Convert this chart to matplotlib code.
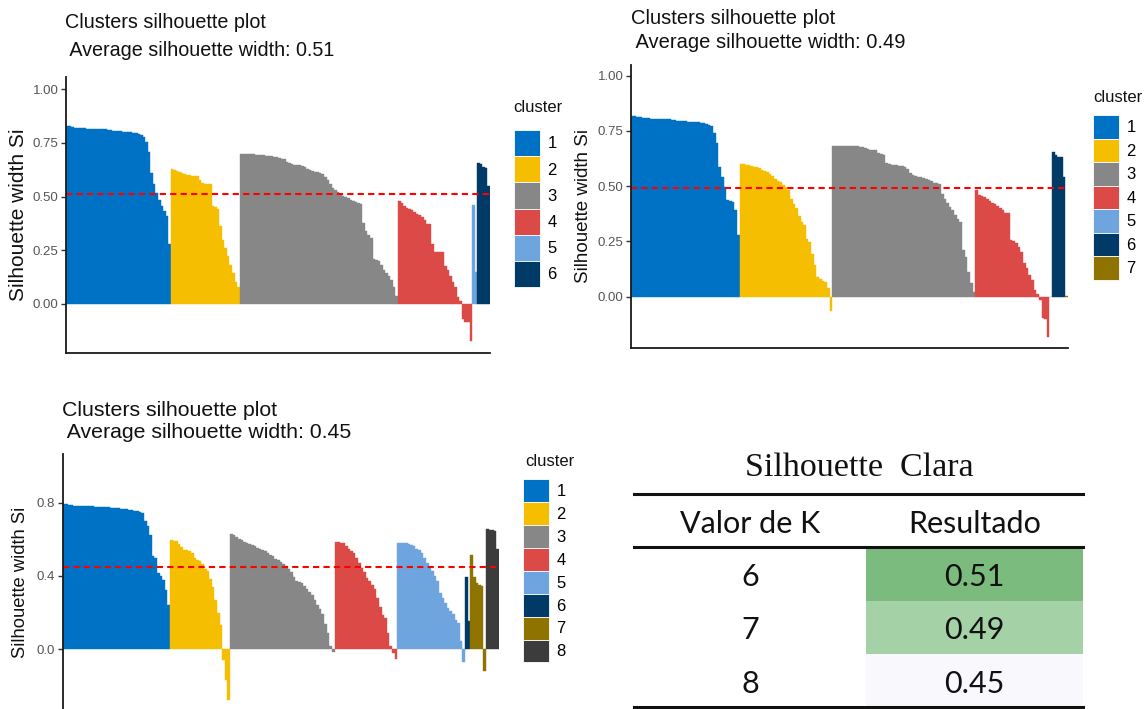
import matplotlib
matplotlib.use("Agg")
import matplotlib.pyplot as plt
from matplotlib.patches import Patch, Rectangle
import numpy as np

W, H = 1147, 709

k6_c1 = [.827, .826, .824, .821, .820, .818, .817, .817, .816, .816, .815, .815, .815, .815,
         .814, .812, .810, .809, .807, .806, .804, .803, .802, .801, .800, .799, .797, .796,
         .790, .785, .775, .755, .709, .609, .559, .516, .485, .455, .431, .411, .277]
k6_c2 = [.627, .625, .620, .615, .610, .605, .600, .598, .596, .596, .594, .578, .565, .560,
         .559, .558, .455, .450, .440, .365, .300, .260, .223, .180, .146, .100, .077]
k6_c3 = [.700, .700, .699, .698, .697, .696, .695, .694, .692, .691, .690, .688, .687, .686,
         .683, .680, .676, .673, .660, .655, .650, .648, .647, .645, .640, .636, .630, .624,
         .618, .615, .612, .609, .605, .593, .575, .560, .540, .528, .520, .508, .503, .498,
         .492, .485, .480, .475, .468, .465, .377, .339, .320, .308, .210, .205, .200, .180,
         .160, .146, .131, .110, .077, .038]
k6_c4 = [.478, .470, .458, .447, .443, .439, .430, .420, .412, .405, .390, .374, .374, .277,
         .243, .243, .243, .243, .177, .159, .131, .100, .077, .031, .015, -.072, -.085, -.085,
         -.170]
k6_c5 = [.460, .150]
k6_c6 = [.655, .650, .636, .634, .547]

k7_c1 = [.817, .816, .814, .812, .810, .808, .807, .806, .806, .805, .805, .804, .804, .803,
         .802, .800, .798, .796, .795, .794, .793, .792, .791, .790, .789, .788, .787, .785,
         .780, .777, .770, .742, .697, .588, .540, .495, .437, .432, .430, .390, .279]
k7_c2 = [.599, .598, .597, .596, .592, .588, .585, .581, .575, .570, .563, .555, .545, .531,
         .525, .520, .505, .495, .483, .440, .420, .400, .365, .340, .324, .260, .249, .193,
         .143, .090, .080, .070, .068, .038, -.063]
k7_c3 = [.683, .683, .683, .682, .682, .682, .681, .681, .680, .680, .679, .676, .672, .667,
         .665, .665, .665, .652, .645, .641, .603, .600, .597, .596, .594, .591, .589, .585,
         .576, .560, .550, .545, .543, .540, .536, .533, .528, .523, .516, .513, .510, .465,
         .440, .422, .405, .392, .370, .350, .339, .211, .181, .113, .063, .023]
k7_c4 = [.483, .460, .455, .449, .440, .434, .425, .419, .410, .400, .390, .377, .377, .256,
         .250, .244, .226, .200, .154, .128, .100, .075, .030, .010, -.015, -.098, -.100, -.181]
k7_c5 = [0.0]
k7_c6 = [.653, .641, .634, .634, .543]
k7_c7 = [.005]

k8_c1 = [.793, .791, .789, .787, .785, .784, .783, .783, .782, .782, .781, .780, .779, .778,
         .777, .776, .776, .775, .774, .773, .772, .771, .769, .767, .765, .763, .760, .758,
         .755, .750, .742, .700, .672, .626, .508, .499, .416, .402, .380, .325, .243]
k8_c2 = [.595, .592, .590, .577, .560, .544, .540, .535, .526, .499, .490, .480, .468, .440,
         .426, .384, .340, .270, .200, .133, -.058, -.168, -.278]
k8_c3 = [.630, .625, .615, .605, .595, .585, .580, .577, .570, .563, .555, .548, .540, .535,
         .525, .515, .508, .495, .485, .478, .465, .455, .440, .420, .395, .371, .366, .362,
         .345, .329, .310, .298, .270, .240, .220, .190, .140, .090, .018, -.018]
k8_c4 = [.586, .586, .583, .581, .566, .550, .535, .526, .499, .470, .445, .420, .389, .371,
         .353, .330, .279, .230, .188, .170, .088, .015, -.022, -.055]
k8_c5 = [.581, .581, .580, .579, .577, .570, .563, .550, .540, .526, .499, .471, .450, .430,
         .400, .371, .307, .279, .252, .225, .210, .190, .161, .142, .042, -.068]
k8_c6 = [.393, .152]
k8_c7 = [.517, .395, .360, .350, .343, -.119]
k8_c8 = [.658, .652, .650, .648, .548]

avg_width = [0.51, 0.49, 0.45]

# summary table
k_values = [6, 7, 8]
resultado = [0.51, 0.49, 0.45]
cell_colors = ["#7BBB7E", "#A5D1A7", "#F9F9FD"]

palette = ["#0072C6", "#F5BE00", "#878787", "#DC4A48", "#6FA5DE", "#003B68", "#8F7300", "#3C3C3C"]

SANS = ["Liberation Sans", "DejaVu Sans"]
TAB = ["Lato", "DejaVu Sans"]

fig = plt.figure(figsize=(W / 100, H / 100), dpi=100)


def px_axes(left, top, right, bottom):
    return fig.add_axes([left / W, 1 - bottom / H, (right - left) / W, (bottom - top) / H])


def sil_plot(rect, ylim, clusters, avg, yticks, ytl, title_xy, title_fs, title_ls,
             ylab_xy, ylab_fs, leg_xy, key_h, cl_xy):
    ax = px_axes(*rect)
    vals = np.concatenate([np.array(c, dtype=float) for c in clusters])
    cols = np.concatenate([[palette[i]] * len(c) for i, c in enumerate(clusters)])
    x = np.arange(len(vals))
    ax.bar(x, vals, width=1.0, color=cols, edgecolor=cols, linewidth=0.3)
    ax.axhline(avg, color="#FF0000", lw=1.5, dashes=(3, 2))
    ax.set_xlim(-0.5, len(vals) - 0.5)
    ax.set_ylim(*ylim)
    for s in ["top", "right"]:
        ax.spines[s].set_visible(False)
    for s in ["left", "bottom"]:
        ax.spines[s].set_linewidth(1.3)
        ax.spines[s].set_color("#1a1a1a")
    ax.set_xticks([])
    ax.set_yticks(yticks)
    ax.set_yticklabels(ytl, fontfamily=SANS, fontsize=9.5, color="#555555")
    ax.tick_params(axis="y", length=3.5, width=1, color="#333333", pad=2)

    fig.text(title_xy[0] / W, 1 - title_xy[1] / H,
             "Clusters silhouette plot\n Average silhouette width: %.2f" % avg,
             ha="left", va="top", fontsize=title_fs, linespacing=title_ls,
             family=SANS, color="#111111")
    fig.text(ylab_xy[0] / W, 1 - ylab_xy[1] / H, "Silhouette width Si", rotation=90,
             ha="center", va="center", fontsize=ylab_fs, family=SANS, color="#111111")

    fig.text(cl_xy[0] / W, 1 - cl_xy[1] / H, "cluster", ha="left", va="center",
             fontsize=12, family=SANS, color="#111111")
    fs = 12
    handles = [Patch(facecolor=palette[i], edgecolor="white", linewidth=0.6)
               for i in range(len(clusters))]
    labels = [str(i + 1) for i in range(len(clusters))]
    ax.legend(handles, labels, loc="upper left", bbox_to_anchor=(leg_xy[0] / W, 1 - leg_xy[1] / H),
              bbox_transform=fig.transFigure, frameon=False, borderpad=0, borderaxespad=0,
              labelspacing=0, handlelength=26 / (fs * 100 / 72), handleheight=key_h / (fs * 100 / 72),
              handletextpad=0.45, prop={"family": SANS, "size": fs})
    return ax


sil_plot((66, 77, 490, 353), (-0.228, 1.056),
         [k6_c1, k6_c2, k6_c3, k6_c4, k6_c5, k6_c6], avg_width[0],
         [0, .25, .5, .75, 1], ["0.00", "0.25", "0.50", "0.75", "1.00"],
         (65, 13), 14.2, 1.6, (19, 215), 15, (514, 130), 34, (513, 108))

sil_plot((631, 65, 1068, 348), (-0.232, 1.048),
         [k7_c1, k7_c2, k7_c3, k7_c4, k7_c5, k7_c6, k7_c7], avg_width[1],
         [0, .25, .5, .75, 1], ["0.00", "0.25", "0.50", "0.75", "1.00"],
         (631, 9), 14.5, 1.3, (584, 206), 13.5, (1093, 115), 29.9, (1093, 97))

sil_plot((63, 454, 499, 715), (-0.36, 1.067),
         [k8_c1, k8_c2, k8_c3, k8_c4, k8_c5, k8_c6, k8_c7, k8_c8], avg_width[2],
         [0, .4, .8], ["0.0", "0.4", "0.8"],
         (62, 401), 15.3, 1.2, (21, 582), 13.2, (523, 479), 29, (525, 462))

# table
axt = px_axes(634, 494, 1083, 707)
axt.axis("off")
axt.set_xlim(0, 1)
axt.set_ylim(3, -1)
split = (866 - 634) / (1083 - 634)
for i, (k, r, c) in enumerate(zip(k_values, resultado, cell_colors)):
    axt.add_patch(Rectangle((split, i), 1 - split, 1, facecolor=c, edgecolor="none"))
    axt.text(split / 2, i + 0.56, str(k), ha="center", va="center", fontsize=22,
             family=TAB, color="#111111")
    axt.text((1 + split) / 2, i + 0.56, "%.2f" % r, ha="center", va="center", fontsize=22,
             family=TAB, color="#111111")
axt.text(split / 2, -0.44, "Valor de K", ha="center", va="center", fontsize=22,
         family=TAB, color="#111111")
axt.text((1 + split) / 2, -0.44, "Resultado", ha="center", va="center", fontsize=22,
         family=TAB, color="#111111")
for yy in [-1, 0, 3]:
    axt.axhline(yy, color="#111111", lw=2.2, clip_on=False)

fig.text(859 / W, 1 - 468 / H, "Silhouette  Clara", ha="center", va="center", fontsize=24.5,
         family=["Liberation Serif", "DejaVu Serif"], color="#111111")

fig.savefig("out.png", dpi=100)
